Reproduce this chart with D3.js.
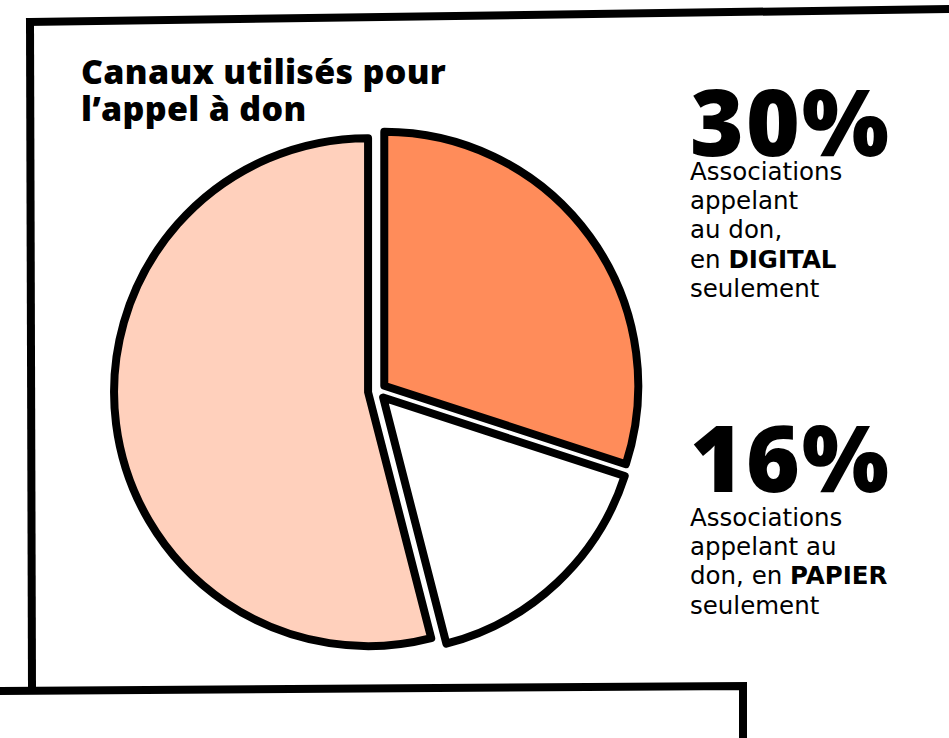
<!DOCTYPE html>
<html>
<head>
<meta charset="utf-8">
<script src="https://cdn.jsdelivr.net/npm/d3@7"></script>
<style>
  html, body { margin: 0; padding: 0; background: #ffffff; }
  svg { display: block; }
  text { fill: #000; }
</style>
</head>
<body>
<svg id="chart" width="949" height="738"></svg>
<script>
// Canaux utilisés pour l'appel à don (% des associations)
const categories = ["Digital seulement", "Papier seulement", "Digital et papier"];
const values = [30, 16, 54];
const colors = ["#ff8c5a", "#ffffff", "#ffd0bc"];

const callouts = [
  { value: 30, lines: [["Associations"], ["appelant"], ["au don,"], ["en ", "DIGITAL"], ["seulement"]] },
  { value: 16, lines: [["Associations"], ["appelant au"], ["don, en ", "PAPIER"], ["seulement"]] }
];

const W = 949, H = 738;
const svg = d3.select("#chart");

// hand-drawn frame
const frame = svg.append("g")
  .attr("fill", "none")
  .attr("stroke", "#000")
  .attr("stroke-width", 8)
  .attr("stroke-linecap", "square");
frame.append("path").attr("d", "M30,22 L949,9");
frame.append("path").attr("d", "M30,22 L32,688");
frame.append("path").attr("d", "M0,691 L743,686 L743,738");

// title
const title = svg.append("text")
  .style("font-family", "'Open Sans', sans-serif")
  .style("font-size", "34px")
  .style("font-weight", 800)
  .style("letter-spacing", "0.3px");
title.append("tspan").attr("x", 81).attr("y", 84).text("Canaux utilisés pour");
title.append("tspan").attr("x", 81).attr("y", 121).text("l’appel à don");

// exploded pie
const cx = 377, cy = 391, r = 254, explode = 9;
const pie = d3.pie().sort(null).value(d => d)(values);
const arc = d3.arc().innerRadius(0).outerRadius(r);

svg.append("g")
  .attr("transform", `translate(${cx},${cy})`)
  .selectAll("path")
  .data(pie)
  .join("path")
  .attr("d", arc)
  .attr("transform", d => {
    const a = (d.startAngle + d.endAngle) / 2;
    return `translate(${Math.sin(a) * explode},${-Math.cos(a) * explode})`;
  })
  .attr("fill", (d, i) => colors[i])
  .attr("stroke", "#000")
  .attr("stroke-width", 8)
  .attr("stroke-linejoin", "round");

// callouts: big percentage, then the wrapped caption
const numberBaselines = [156, 492];
const captionBaselines = [180, 526];
callouts.forEach((c, k) => {
  const g = svg.append("g").attr("transform", "translate(690,0)");
  g.append("text")
    .attr("x", 0).attr("y", numberBaselines[k])
    .style("font-family", "'Open Sans', sans-serif")
    .style("font-size", "92px")
    .style("font-weight", 800)
    .style("letter-spacing", "2px")
    .text(d3.format("d")(c.value) + "%");
  const t = g.append("text")
    .style("font-family", "'DejaVu Sans', sans-serif")
    .style("font-size", "24.5px");
  c.lines.forEach((parts, i) => {
    parts.forEach((p, j) => {
      const ts = t.append("tspan").text(p);
      if (j === 0) ts.attr("x", 0).attr("y", captionBaselines[k] + i * 29.2);
      if (j === 1) ts.style("font-weight", 700);
    });
  });
});
</script>
</body>
</html>
